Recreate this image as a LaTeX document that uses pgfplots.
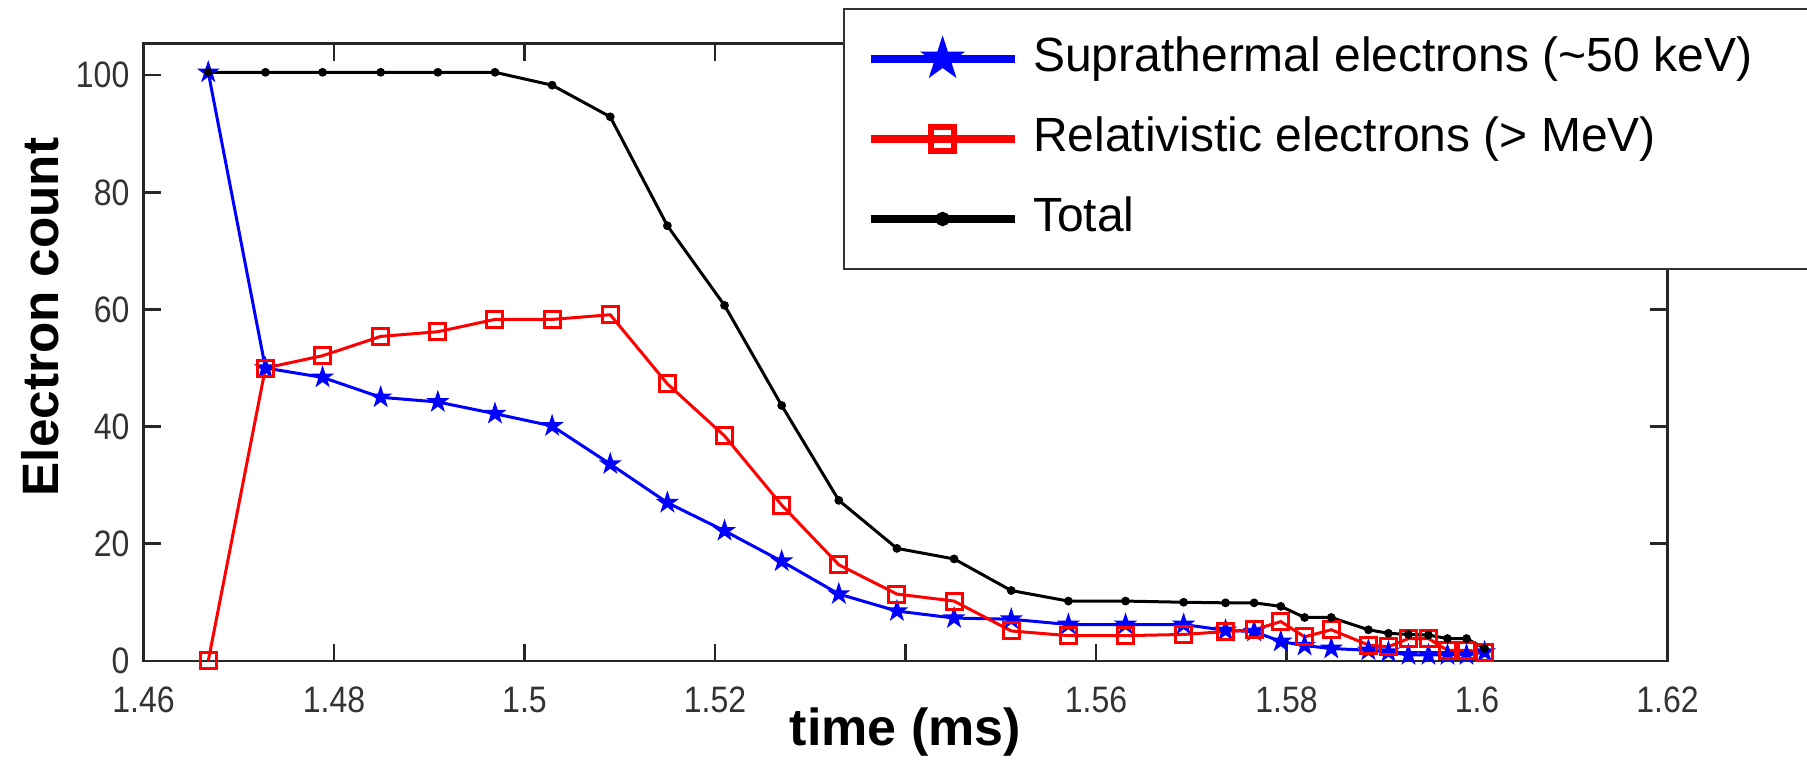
\documentclass[border=0pt]{standalone}
\usepackage{fontspec}
\setmainfont{Liberation Sans}
\newfontfamily\tickfont[FakeStretch=0.87]{Liberation Sans}
\newfontfamily\labelfont{Liberation Sans Bold}
\usepackage{pgfplots}
\pgfplotsset{compat=1.18}

\pgfdeclareplotmark{fstar}{%
  \pgfpathmoveto{\pgfpointpolar{90}{\pgfplotmarksize}}%
  \pgfpathlineto{\pgfpointpolar{126}{0.382\pgfplotmarksize}}%
  \pgfpathlineto{\pgfpointpolar{162}{\pgfplotmarksize}}%
  \pgfpathlineto{\pgfpointpolar{198}{0.382\pgfplotmarksize}}%
  \pgfpathlineto{\pgfpointpolar{234}{\pgfplotmarksize}}%
  \pgfpathlineto{\pgfpointpolar{270}{0.382\pgfplotmarksize}}%
  \pgfpathlineto{\pgfpointpolar{306}{\pgfplotmarksize}}%
  \pgfpathlineto{\pgfpointpolar{342}{0.382\pgfplotmarksize}}%
  \pgfpathlineto{\pgfpointpolar{18}{\pgfplotmarksize}}%
  \pgfpathlineto{\pgfpointpolar{54}{0.382\pgfplotmarksize}}%
  \pgfpathclose
  \pgfusepathqfillstroke
}

\begin{document}
\begin{tikzpicture}
\path[use as bounding box] (-35.875pt,-25.3pt) rectangle (415.875pt,165.2pt);
\begin{axis}[
  at={(0pt,0pt)}, anchor=south west,
  scale only axis, width=381pt, height=154.3pt,
  xmin=1.46, xmax=1.62, ymin=0, ymax=105.4,
  xtick={1.46,1.48,1.5,1.52,1.54,1.56,1.58,1.6,1.62},
  xticklabels={1.46,1.48,1.5,1.52,,1.56,1.58,1.6,1.62},
  ytick={0,20,40,60,80,100},
  tick align=inside, xtick pos=both, ytick pos=both,
  major tick length=4.3pt,
  axis line style={black!85, line width=0.6pt},
  every tick/.append style={black!85, line width=0.6pt},
  tick label style={font=\tickfont\fontsize{9.2}{10}\selectfont, text=black!80},
  /pgf/number format/assume math mode=true,
  xticklabel style={yshift=-3pt},
  xlabel={time (ms)}, ylabel={Electron count},
  every axis x label/.style={at={(axis description cs:0.5,-0.1154)}, anchor=center, font=\labelfont\fontsize{13}{15}\selectfont},
  every axis y label/.style={at={(axis description cs:-0.0677,0.557)}, rotate=90, anchor=center, font=\labelfont\fontsize{12.8}{15}\selectfont},
  legend cell align=left,
  legend style={at={(axis description cs:0.459,1.0577)}, anchor=north west,
    fill=white, draw=black!80, line width=0.5pt,
    font=\fontsize{12}{14}\selectfont,
    inner xsep=5.75pt, inner ysep=6.5pt, row sep=8pt, column sep=3.75pt,
    nodes={inner sep=0pt, text height=9pt, text depth=3pt}},
  legend image code/.code={\draw[mark repeat=2,mark phase=2,#1,line width=1.8pt,every mark/.append style={scale=1.45, line width=1.5pt}] plot coordinates {(0pt,0pt) (18pt,0pt) (36pt,0pt)};},
]
\addplot[blue, line width=0.75pt, mark=fstar, mark size=2.4pt, mark options={fill=blue, draw=blue, line width=0.4pt}] coordinates {
(1.4668,100.5) (1.4728,50.0) (1.4788,48.4) (1.4849,45.0) (1.4909,44.2)
(1.4969,42.2) (1.5029,40.1) (1.5090,33.6) (1.5150,27.0) (1.5210,22.2)
(1.5270,17.0) (1.5330,11.4) (1.5391,8.5) (1.5451,7.3) (1.5511,7.1)
(1.5571,6.2) (1.5631,6.2) (1.5692,6.2) (1.5736,5.2) (1.5766,5.0)
(1.5794,3.3) (1.5819,2.6) (1.5847,2.1) (1.5886,1.8) (1.5907,1.5)
(1.5928,1.0) (1.5949,1.0) (1.5969,1.0) (1.5989,1.0) (1.6008,1.5)
};
\addlegendentry{Suprathermal electrons (\textasciitilde 50 keV)\hspace*{25pt}}
\addplot[red, line width=0.75pt, mark=square, mark size=2pt, mark options={draw=red, line width=0.75pt}] coordinates {
(1.4668,0.0) (1.4728,50.0) (1.4788,52.1) (1.4849,55.4) (1.4909,56.2)
(1.4969,58.3) (1.5029,58.3) (1.5090,59.1) (1.5150,47.3) (1.5210,38.4)
(1.5270,26.6) (1.5330,16.4) (1.5391,11.4) (1.5451,10.2) (1.5511,5.1)
(1.5571,4.3) (1.5631,4.3) (1.5692,4.5) (1.5736,5.0) (1.5766,5.3)
(1.5794,6.7) (1.5819,4.1) (1.5847,5.3) (1.5886,2.7) (1.5907,2.4)
(1.5928,3.8) (1.5949,3.8) (1.5969,1.8) (1.5989,1.8) (1.6008,1.5)
};
\addlegendentry{Relativistic electrons (> MeV)}
\addplot[black, line width=0.75pt, mark=*, mark size=0.7pt] coordinates {
(1.4668,100.5) (1.4728,100.5) (1.4788,100.5) (1.4849,100.5) (1.4909,100.5)
(1.4969,100.5) (1.5029,98.3) (1.5090,92.9) (1.5150,74.3) (1.5210,60.7)
(1.5270,43.6) (1.5330,27.4) (1.5391,19.2) (1.5451,17.4) (1.5511,12.0)
(1.5571,10.2) (1.5631,10.2) (1.5692,10.0) (1.5736,9.9) (1.5766,9.9)
(1.5794,9.3) (1.5819,7.4) (1.5847,7.4) (1.5886,5.3) (1.5907,4.7)
(1.5928,4.5) (1.5949,4.4) (1.5969,3.8) (1.5989,3.8) (1.6008,2.1)
};
\addlegendentry{Total}
\end{axis}
\end{tikzpicture}
\end{document}
